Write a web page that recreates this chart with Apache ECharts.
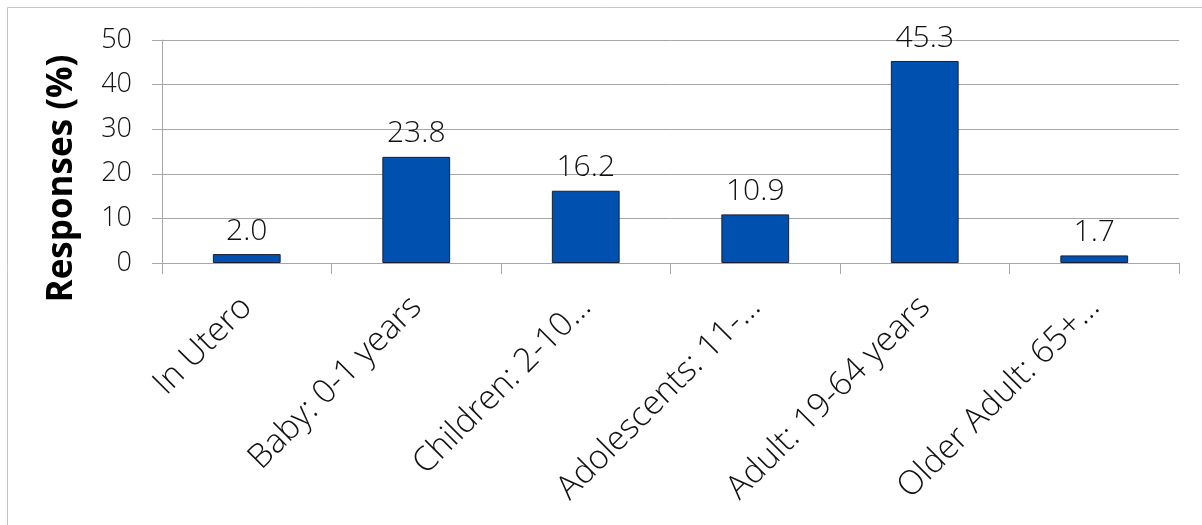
<!DOCTYPE html>
<html>
<head>
<meta charset="utf-8">
<script src="https://cdn.jsdelivr.net/npm/echarts@6/dist/echarts.min.js"></script>
<style>
  html, body { margin: 0; padding: 0; background: #fff; }
  #chart { width: 1202px; height: 525px; }
</style>
</head>
<body>
<div id="chart"></div>
<script>
// Age groups and share of responses (%)
const categories = [
  'In Utero',
  'Baby: 0-1 years',
  'Children: 2-10…',
  'Adolescents: 11-…',
  'Adult: 19-64 years',
  'Older Adult: 65+…'
];
const responses = [2.0, 23.8, 16.2, 10.9, 45.3, 1.7];
const yTicks = [0, 10, 20, 30, 40, 50];

const lightFont = '"Open Sans", "Noto Sans", sans-serif';

const chart = echarts.init(document.getElementById('chart'));
chart.setOption({
  animation: false,
  backgroundColor: '#ffffff',
  graphic: [{
    type: 'rect',
    shape: { x: 7.5, y: 7.5, width: 1210, height: 540 },
    style: { fill: 'none', stroke: '#c6c6c6', lineWidth: 1 },
    silent: true,
    z: -10
  }],
  grid: { left: 162, right: 23, top: 40, bottom: 262, containLabel: false },
  xAxis: {
    type: 'category',
    data: categories,
    axisLine: { show: true, lineStyle: { color: '#a6a6a6', width: 1 } },
    axisTick: { show: true, length: 11, lineStyle: { color: '#a6a6a6' } },
    axisLabel: {
      rotate: 45,
      margin: 39,
      interval: 0,
      color: '#111',
      fontFamily: lightFont,
      fontWeight: 300,
      fontSize: 33.5
    }
  },
  yAxis: {
    type: 'value',
    min: yTicks[0],
    max: yTicks[yTicks.length - 1],
    interval: 10,
    name: 'Responses (%)',
    nameLocation: 'middle',
    nameGap: 82,
    nameTextStyle: {
      color: '#000',
      fontFamily: '"Open Sans", "Liberation Sans", sans-serif',
      fontWeight: 'bold',
      fontSize: 35,
      padding: [0, 54, 0, 0]
    },
    axisLine: { show: true, lineStyle: { color: '#a6a6a6', width: 1 } },
    axisTick: { show: true, length: 10, lineStyle: { color: '#a6a6a6' } },
    splitLine: { show: true, lineStyle: { color: '#a6a6a6', width: 1 } },
    axisLabel: {
      margin: 30,
      color: '#111',
      fontFamily: lightFont,
      fontWeight: 300,
      fontSize: 27
    }
  },
  series: [{
    type: 'bar',
    data: responses,
    barCategoryGap: '60%',
    itemStyle: { color: '#0050b0', borderColor: '#1a1f33', borderWidth: 1 },
    label: {
      show: true,
      position: 'top',
      distance: 8,
      formatter: p => p.value.toFixed(1),
      color: '#111',
      fontFamily: lightFont,
      fontWeight: 300,
      fontSize: 30
    }
  }]
});
</script>
</body>
</html>
